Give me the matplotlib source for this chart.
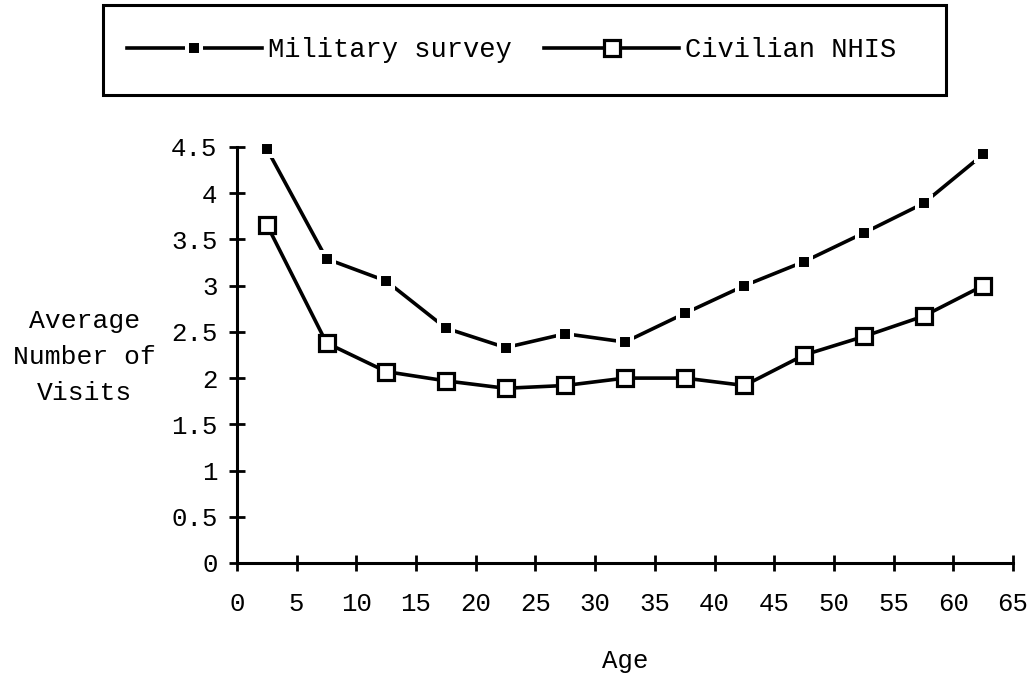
import matplotlib
matplotlib.use("Agg")
import matplotlib.pyplot as plt
from matplotlib.patches import Rectangle

# age group midpoints
ages = [2.5, 7.5, 12.5, 17.5, 22.5, 27.5, 32.5, 37.5, 42.5, 47.5, 52.5, 57.5, 62.5]
military = [4.48, 3.29, 3.05, 2.54, 2.33, 2.48, 2.39, 2.70, 3.00, 3.26, 3.57, 3.89, 4.42]
civilian = [3.66, 2.38, 2.07, 1.97, 1.89, 1.92, 2.00, 2.00, 1.92, 2.25, 2.45, 2.67, 3.00]

xticks = list(range(0, 70, 5))
yticks = [0, 0.5, 1, 1.5, 2, 2.5, 3, 3.5, 4, 4.5]

plt.rcParams['font.family'] = ['Liberation Mono', 'DejaVu Sans']

fig = plt.figure(figsize=(10.33, 6.77), dpi=100)
ax = fig.add_axes([0.2294, 0.1684, 0.7513, 0.6145])

ax.plot(ages, military, color='black', lw=2.6, marker='s', ms=10.5,
        mfc='black', mec='white', mew=2.9, label='Military survey', clip_on=False)
ax.plot(ages, civilian, color='black', lw=2.6, marker='s', ms=11.5,
        mfc='white', mec='black', mew=2.3, label='Civilian NHIS', clip_on=False)

ax.set_xlim(0, 65)
ax.set_ylim(0, 4.5)
ax.set_xticks(xticks)
ax.set_xticklabels([str(t) for t in xticks])
ax.set_yticks(yticks)
ax.set_yticklabels(['0', '0.5', '1', '1.5', '2', '2.5', '3', '3.5', '4', '4.5'])

for s in ['top', 'right']:
    ax.spines[s].set_visible(False)
for s in ['left', 'bottom']:
    ax.spines[s].set_linewidth(2.2)
ax.tick_params(axis='both', direction='inout', length=12, width=2, labelsize=18.5)
ax.tick_params(axis='x', pad=15)
ax.tick_params(axis='y', pad=8)

ax.set_xlabel('Age', fontsize=18.5, labelpad=24)
ax.set_ylabel('Average\nNumber of\nVisits', fontsize=19, rotation=0,
              ha='center', va='center', labelpad=0, linespacing=1.65)
ax.yaxis.set_label_coords(-0.196, 0.495)

# legend box at the top
fig.patches.append(Rectangle((0.0997, 0.8597), 0.8161, 0.1329, transform=fig.transFigure,
                             fill=False, edgecolor='black', linewidth=2.2))
fig.legend(loc='center', bbox_to_anchor=(0.495, 0.926), ncol=2, frameon=False,
           fontsize=19.5, handlelength=5.0, columnspacing=1.2, handletextpad=0.2,
           markerscale=1.0)

fig.savefig('out.png', dpi=100)
